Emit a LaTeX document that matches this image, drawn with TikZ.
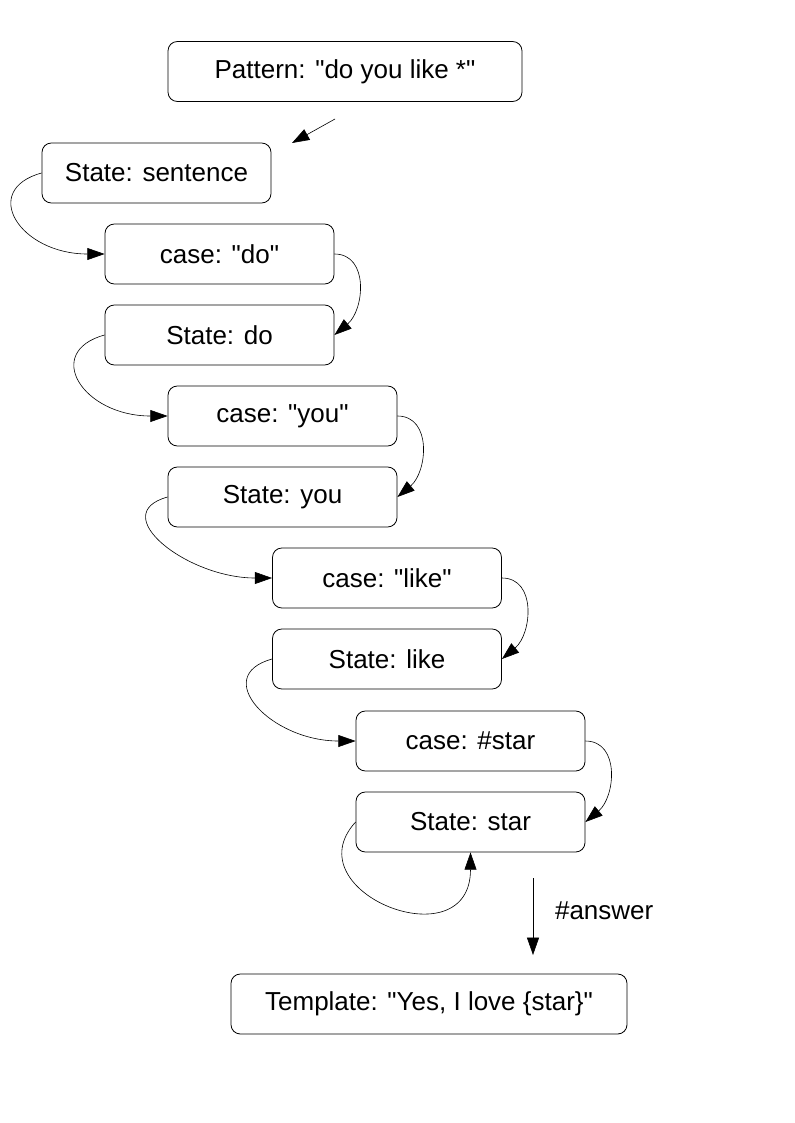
\documentclass[tikz,border=0pt]{standalone}
\usepackage{fontspec}
\setmainfont{Liberation Sans}[Ligatures=TeXOff]
\usetikzlibrary{arrows.meta}

\begin{document}
\begin{tikzpicture}[x=0.75pt, y=-0.75pt,
    box/.style={draw, line width=0.6pt, rounded corners=7pt, inner sep=0pt,
      minimum width=171.75pt, minimum height=45pt,
      font=\fontsize{19.5}{23}\selectfont},
    link/.style={-{Triangle[length=13pt,width=9pt]}, line width=0.45pt}]
        \useasboundingbox (0,0) rectangle (794,1123);

        % Pattern and template
        \node[box, minimum width=265.5pt] (pat) at (345,71.5) {Pattern: "do you like *"};
        \node[box, minimum width=297pt] (tmpl) at (429,1004) {Template: "Yes, I love \{star\}"};

        % States and cases
        \node[box] (ssent) at (156.5,173) {State: sentence};
        \node[box] (cdo)   at (219.5,254) {case: "do"};
        \node[box] (sdo)   at (219.5,335) {State: do};
        \node[box] (cyou)  at (282.5,416) {case: "you"};
        \node[box] (syou)  at (282.5,497) {State: you};
        \node[box] (clike) at (387,578)   {case: "like"};
        \node[box] (slike) at (387,659)   {State: like};
        \node[box] (cstar) at (470.5,741) {case: \#star};
        \node[box] (sstar) at (470.5,822) {State: star};

        % Free arrow ends
        \coordinate (pstart) at (335,119);
        \coordinate (pend) at (292,143);
        \coordinate (astart) at (533,878);
        \coordinate (aend) at (533,955);

        \draw[link] (pstart) -- (pend);

        % State -> case, curving out on the left
        \foreach \s/\c in {ssent/cdo, sdo/cyou, syou/clike, slike/cstar}
          \draw[link] (\s.west) .. controls +(-62,17) and +(-85,0) .. (\c.west);

        % case -> State, curving out on the right
        \foreach \c/\s in {cdo/sdo, cyou/syou, clike/slike, cstar/sstar}
          \draw[link] (\c.east) .. controls +(35,0) and +(30,-25) .. (\s.east);

        % Loop on the last state
        \draw[link] (sstar.west) .. controls +(-64,70) and +(0,110) .. (sstar.south);

        % Answer
        \draw[link] (astart) -- (aend)
          node[pos=0.43, right=13pt, font=\fontsize{19.5}{23}\selectfont] (lans) {\#answer};
      \end{tikzpicture}
\end{document}
